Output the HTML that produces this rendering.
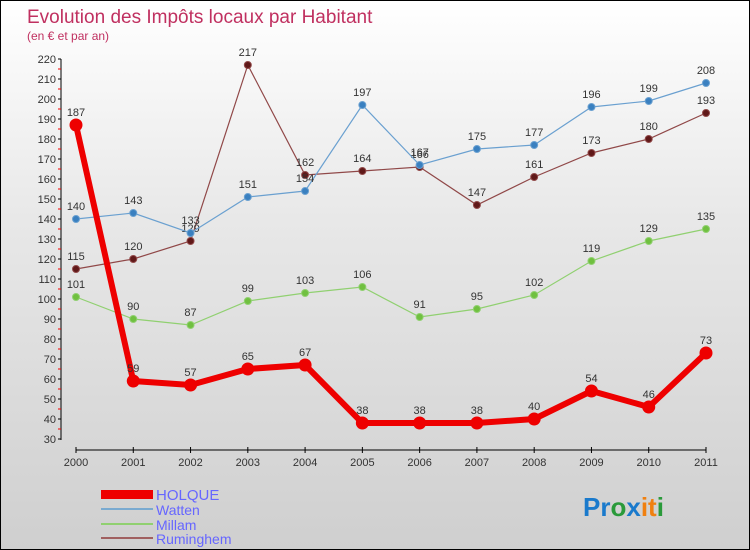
<!DOCTYPE html>
<html><head><meta charset="utf-8"><style>
body{margin:0}
#c{width:748px;height:548px;border:1px solid #000;background:linear-gradient(#fff,#e8e8e8 40%,#cfcfcf);position:relative;font-family:"Liberation Sans",sans-serif}
</style></head><body>
<div id="c">
<svg id="s" width="748" height="548" style="position:absolute;left:0;top:0" font-family="Liberation Sans, sans-serif">
<text x="26" y="22" font-size="19" fill="#c03060">Evolution des Impôts locaux par Habitant</text>
<text x="26" y="39" font-size="12" fill="#c03060">(en € et par an)</text>
<g id="axes"></g><g id="series"></g>
<g>
<rect x="100" y="489" width="52" height="9" fill="#e00"/>
<line x1="100" y1="508" x2="152" y2="508" stroke="#7aaad0" stroke-width="2"/>
<line x1="100" y1="523" x2="152" y2="523" stroke="#90d070" stroke-width="2"/>
<line x1="100" y1="537" x2="152" y2="537" stroke="#a06060" stroke-width="2"/>
<text x="155" y="499" font-size="15" fill="#6666ff">HOLQUE</text>
<text x="155" y="514" font-size="14" fill="#6666ff">Watten</text>
<text x="155" y="529" font-size="14" fill="#6666ff">Millam</text>
<text x="155" y="543" font-size="14" fill="#6666ff">Ruminghem</text>
</g>
<text x="582" y="515" font-size="26" font-weight="bold"><tspan fill="#1a7acc">Pr</tspan><tspan fill="#2a9a3a">o</tspan><tspan fill="#1a7acc">x</tspan><tspan fill="#f08010">it</tspan><tspan fill="#2a9a3a">i</tspan></text>
</svg></div>
<script>
const years=["2000","2001","2002","2003","2004","2005","2006","2007","2008","2009","2010","2011"];
const holque=[187,59,57,65,67,38,38,38,40,54,46,73];
const watten=[140,143,133,151,154,197,167,175,177,196,199,208];
const millam=[101,90,87,99,103,106,91,95,102,119,129,135];
const ruminghem=[115,120,129,217,162,164,166,147,161,173,180,193];
const yTicks=[30,40,50,60,70,80,90,100,110,120,130,140,150,160,170,180,190,200,210,220];
const NS="http://www.w3.org/2000/svg";
const X=i=>75+i*(630/(years.length-1));
const Y=v=>438-(v-30)*2;
function mk(tag,attrs,parent){const e=document.createElementNS(NS,tag);for(const k in attrs)e.setAttribute(k,attrs[k]);parent.appendChild(e);return e;}
const ax=document.getElementById('axes');
let yl=mk('line',{x1:60,y1:Y(220),x2:60,y2:Y(30)+1,stroke:'#000'},ax);


yTicks.forEach(v=>{
 mk('line',{x1:57,y1:Y(v),x2:60,y2:Y(v),stroke:'#000'},ax);
 if(v<220)mk('line',{x1:57,y1:Y(v+5),x2:60,y2:Y(v+5),stroke:'#e00'},ax);
 const t=mk('text',{x:55,y:Y(v)+4,'font-size':11,'text-anchor':'end',fill:'#333'},ax);t.textContent=v;
 
 
});
let xl=mk('line',{x1:X(0),y1:449,x2:X(11),y2:449,stroke:'#000'},ax);


years.forEach((y,i)=>{
 mk('line',{x1:X(i),y1:446,x2:X(i),y2:452,stroke:'#000'},ax);
 const t=mk('text',{x:X(i),y:465,'font-size':11,'text-anchor':'middle',fill:'#333'},ax);t.textContent=y;
 
 
});
const sg=document.getElementById('series');
function draw(data,name,col,dot,w,r){
 const g=mk('g',{},sg);
 
 
 mk('polyline',{points:data.map((v,i)=>X(i)+','+Y(v)).join(' '),fill:'none',stroke:col,'stroke-width':w},g);
 data.forEach((v,i)=>{
  const c=mk('circle',{cx:X(i),cy:Y(v),r:r,fill:dot,stroke:col,'stroke-width':1},g);
  
  
  const t=mk('text',{x:X(i),y:Y(v)-9,'font-size':11,'text-anchor':'middle',fill:'#333'},g);t.textContent=v;
  
  
 });
}
draw(millam,'millam','#90d070','#70c040',1.2,3.5);
draw(ruminghem,'ruminghem','#904848','#601818',1.2,3.5);
draw(watten,'watten','#6aa0d0','#3a80c0',1.2,3.5);
draw(holque,'holque','#e00','#e00',6,6);
</script>
</body></html>
